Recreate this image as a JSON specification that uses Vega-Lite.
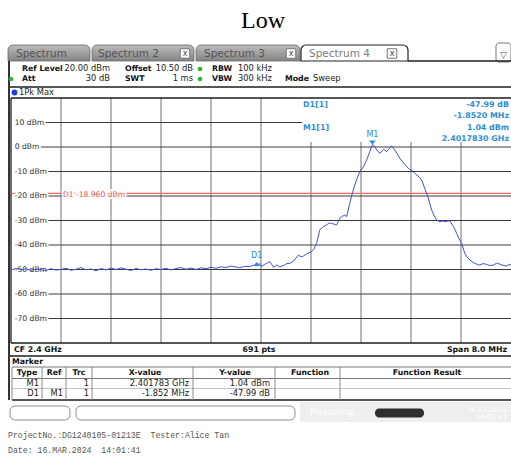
{
"$schema": "https://vega.github.io/schema/vega-lite/v6.json",
"width": 511, "height": 457, "padding": 0,
"autosize": {"type": "none"},
"background": "white",
"config": {"view": {"stroke": null}, "text": {"font": "DejaVu Sans"}},
"datasets": {
"trace": [
{"f":2396.00,"dbm":-50.2},{"f":2396.08,"dbm":-49.6},{"f":2396.16,"dbm":-50.0},{"f":2396.24,"dbm":-49.8},{"f":2396.32,"dbm":-50.3},{"f":2396.40,"dbm":-49.9},{"f":2396.48,"dbm":-50.1},{"f":2396.56,"dbm":-50.4},{"f":2396.64,"dbm":-49.7},{"f":2396.72,"dbm":-50.2},{"f":2396.80,"dbm":-50.0},{"f":2396.88,"dbm":-49.5},{"f":2396.96,"dbm":-50.3},{"f":2397.04,"dbm":-49.9},{"f":2397.12,"dbm":-49.2},{"f":2397.20,"dbm":-50.1},{"f":2397.28,"dbm":-49.8},{"f":2397.36,"dbm":-50.5},{"f":2397.44,"dbm":-49.6},{"f":2397.52,"dbm":-50.2},{"f":2397.60,"dbm":-49.4},{"f":2397.68,"dbm":-50.0},{"f":2397.76,"dbm":-49.3},{"f":2397.84,"dbm":-49.9},{"f":2397.92,"dbm":-50.4},{"f":2398.00,"dbm":-49.6},{"f":2398.08,"dbm":-50.1},{"f":2398.16,"dbm":-49.8},{"f":2398.24,"dbm":-50.3},{"f":2398.32,"dbm":-49.7},{"f":2398.40,"dbm":-50.0},{"f":2398.48,"dbm":-49.5},{"f":2398.56,"dbm":-50.2},{"f":2398.64,"dbm":-49.6},{"f":2398.72,"dbm":-49.2},{"f":2398.80,"dbm":-49.9},{"f":2398.88,"dbm":-49.4},{"f":2398.96,"dbm":-50.0},{"f":2399.04,"dbm":-49.3},{"f":2399.12,"dbm":-49.7},{"f":2399.20,"dbm":-49.1},{"f":2399.28,"dbm":-49.5},{"f":2399.36,"dbm":-48.9},{"f":2399.44,"dbm":-49.2},{"f":2399.52,"dbm":-48.6},{"f":2399.60,"dbm":-49.0},
{"f":2399.66,"dbm":-49.3},{"f":2399.74,"dbm":-48.7},{"f":2399.82,"dbm":-48.8},{"f":2399.88,"dbm":-48.3},{"f":2399.93,"dbm":-48.4},{"f":2399.98,"dbm":-47.6},{"f":2400.01,"dbm":-48.8},{"f":2400.05,"dbm":-48.0},{"f":2400.09,"dbm":-47.5},{"f":2400.14,"dbm":-46.8},{"f":2400.17,"dbm":-47.9},{"f":2400.20,"dbm":-49.1},{"f":2400.25,"dbm":-48.2},{"f":2400.30,"dbm":-48.9},{"f":2400.36,"dbm":-48.4},{"f":2400.41,"dbm":-47.6},{"f":2400.46,"dbm":-47.5},{"f":2400.52,"dbm":-46.6},{"f":2400.56,"dbm":-45.3},{"f":2400.60,"dbm":-44.1},{"f":2400.64,"dbm":-44.8},{"f":2400.68,"dbm":-44.5},{"f":2400.74,"dbm":-43.5},{"f":2400.81,"dbm":-42.7},{"f":2400.84,"dbm":-42.0},{"f":2400.89,"dbm":-39.3},{"f":2400.94,"dbm":-33.9},{"f":2400.99,"dbm":-32.6},{"f":2401.05,"dbm":-31.8},{"f":2401.09,"dbm":-31.0},{"f":2401.13,"dbm":-31.2},{"f":2401.17,"dbm":-31.5},{"f":2401.21,"dbm":-31.8},{"f":2401.26,"dbm":-29.1},{"f":2401.30,"dbm":-28.3},{"f":2401.34,"dbm":-27.8},{"f":2401.37,"dbm":-28.4},{"f":2401.42,"dbm":-23.0},{"f":2401.46,"dbm":-19.0},{"f":2401.50,"dbm":-15.5},{"f":2401.54,"dbm":-12.6},{"f":2401.58,"dbm":-10.1},{"f":2401.64,"dbm":-8.0},{"f":2401.69,"dbm":-5.3},{"f":2401.74,"dbm":-1.9},{"f":2401.783,"dbm":1.04},{"f":2401.82,"dbm":0.2},{"f":2401.85,"dbm":-1.2},{"f":2401.90,"dbm":-2.6},{"f":2401.96,"dbm":-0.9},{"f":2402.01,"dbm":-1.9},{"f":2402.05,"dbm":-0.6},{"f":2402.09,"dbm":0.4},{"f":2402.14,"dbm":-1.2},{"f":2402.18,"dbm":-2.8},{"f":2402.22,"dbm":-4.6},{"f":2402.28,"dbm":-6.5},{"f":2402.33,"dbm":-8.0},{"f":2402.38,"dbm":-9.2},{"f":2402.41,"dbm":-9.4},{"f":2402.46,"dbm":-10.7},{"f":2402.52,"dbm":-12.0},{"f":2402.57,"dbm":-13.5},{"f":2402.62,"dbm":-16.9},{"f":2402.67,"dbm":-20.3},{"f":2402.73,"dbm":-25.7},{"f":2402.77,"dbm":-28.0},{"f":2402.81,"dbm":-29.8},{"f":2402.86,"dbm":-30.5},{"f":2402.90,"dbm":-30.2},{"f":2402.94,"dbm":-30.5},{"f":2402.98,"dbm":-30.3},{"f":2403.02,"dbm":-30.1},{"f":2403.08,"dbm":-32.5},{"f":2403.13,"dbm":-35.2},{"f":2403.17,"dbm":-37.5},{"f":2403.21,"dbm":-39.3},{"f":2403.26,"dbm":-43.4},{"f":2403.30,"dbm":-45.0},{"f":2403.34,"dbm":-46.1},{"f":2403.38,"dbm":-46.9},{"f":2403.42,"dbm":-47.5},{"f":2403.46,"dbm":-47.9},{"f":2403.50,"dbm":-48.2},{"f":2403.55,"dbm":-47.6},{"f":2403.61,"dbm":-47.9},{"f":2403.66,"dbm":-48.4},{"f":2403.72,"dbm":-48.2},{"f":2403.77,"dbm":-47.4},{"f":2403.82,"dbm":-47.8},{"f":2403.87,"dbm":-48.3},{"f":2403.93,"dbm":-48.6},{"f":2403.97,"dbm":-47.9},{"f":2404.00,"dbm":-48.2}
],
"hgrid": [
{"level":10,"label":"10 dBm"},{"level":0,"label":"0 dBm"},{"level":-10,"label":"-10 dBm"},{"level":-20,"label":"-20 dBm"},{"level":-30,"label":"-30 dBm"},{"level":-40,"label":"-40 dBm"},{"level":-50,"label":"-50 dBm"},{"level":-60,"label":"-60 dBm"},{"level":-70,"label":"-70 dBm"}
],
"vgrid": [{"f":2396.8},{"f":2397.6},{"f":2398.4},{"f":2399.2},{"f":2400.0},{"f":2400.8},{"f":2401.6},{"f":2402.4},{"f":2403.2}],
"markers": [{"name":"M1","f":2401.783,"level":1.04},{"name":"D1","f":2399.931,"level":-46.95}],
"ui": [
{"role":"title","text":"Low","c":0,"r":0},
{"role":"statusbg","c":6,"c2":9,"r":36,"r2":37},
{"role":"tab","c":1,"c2":2,"r":1,"r2":2},
{"role":"tab","c":3,"c2":4,"r":1,"r2":2},
{"role":"tab","c":5,"c2":6,"r":1,"r2":2},
{"role":"tabactive","c":7,"c2":8,"r":1,"r2":2},
{"role":"tablabel","text":"Spectrum","c":10,"r":3},
{"role":"tablabel","text":"Spectrum 2","c":11,"r":3},
{"role":"tablabel","text":"Spectrum 3","c":12,"r":3},
{"role":"tablabelactive","text":"Spectrum 4","c":13,"r":3},
{"role":"close","text":"x","c":14,"r":3},
{"role":"close","text":"x","c":15,"r":3},
{"role":"close","text":"x","c":16,"r":3},
{"role":"icon","c":64,"c2":9,"r":33,"r2":34},
{"role":"icontext","text":"▽","c":65,"r":35},
{"role":"hline","c":8,"c2":9,"r":2},
{"role":"hline","c":27,"c2":9,"r":6},
{"role":"hline","c":27,"c2":9,"r":15},
{"role":"hline","c":35,"c2":9,"r":23},
{"role":"hline-gray","c":35,"c2":9,"r":17},
{"role":"hline-gray","c":35,"c2":9,"r":19},
{"role":"hline-light","c":35,"c2":9,"r":21},
{"role":"vline","c":63,"r":2,"r2":23},
{"role":"vline-gray","c":35,"r":17,"r2":23},
{"role":"vline-gray","c":48,"r":17,"r2":23},
{"role":"vline-gray","c":49,"r":17,"r2":23},
{"role":"vline-gray","c":50,"r":17,"r2":23},
{"role":"vline-gray","c":51,"r":17,"r2":23},
{"role":"vline-gray","c":52,"r":17,"r2":23},
{"role":"vline-gray","c":53,"r":17,"r2":23},
{"role":"dot-green","c":21,"r":4},
{"role":"dot-green","c":26,"r":5},
{"role":"dot-green","c":21,"r":5},
{"role":"dot-blue","c":28,"r":7},
{"role":"label","text":"Ref Level","c":17,"r":4},
{"role":"label","text":"Offset","c":19,"r":4},
{"role":"label","text":"RBW","c":22,"r":4},
{"role":"label","text":"Att","c":17,"r":5},
{"role":"label","text":"SWT","c":19,"r":5},
{"role":"label","text":"VBW","c":22,"r":5},
{"role":"label","text":"Mode","c":24,"r":5},
{"role":"label","text":"CF 2.4 GHz","c":32,"r":14},
{"role":"label","text":"Marker","c":35,"r":16},
{"role":"value","text":"100 kHz","c":23,"r":4},
{"role":"value","text":"300 kHz","c":23,"r":5},
{"role":"value","text":"Sweep","c":25,"r":5},
{"role":"value","text":"1Pk Max","c":29,"r":7},
{"role":"value-r","text":"20.00 dBm","c":18,"r":4},
{"role":"value-r","text":"10.50 dB","c":20,"r":4},
{"role":"value-r","text":"30 dB","c":18,"r":5},
{"role":"value-r","text":"1 ms","c":20,"r":5},
{"role":"value-r","text":"M1","c":43,"r":20},
{"role":"value-r","text":"1","c":45,"r":20},
{"role":"value-r","text":"2.401783 GHz","c":46,"r":20},
{"role":"value-r","text":"1.04 dBm","c":47,"r":20},
{"role":"value-r","text":"D1","c":43,"r":22},
{"role":"value-r","text":"M1","c":44,"r":22},
{"role":"value-r","text":"1","c":45,"r":22},
{"role":"value-r","text":"-1.852 MHz","c":46,"r":22},
{"role":"value-r","text":"-47.99 dB","c":47,"r":22},
{"role":"info-label","text":"D1[1]","c":30,"r":9},
{"role":"info-label","text":"M1[1]","c":30,"r":11},
{"role":"info-value","text":"-47.99 dB","c":31,"r":9},
{"role":"info-value","text":"-1.8520 MHz","c":31,"r":10},
{"role":"info-value","text":"1.04 dBm","c":31,"r":11},
{"role":"info-value","text":"2.4017830 GHz","c":31,"r":12},
{"role":"label-c","text":"691 pts","c":33,"r":14},
{"role":"label-r","text":"Span 8.0 MHz","c":34,"r":14},
{"role":"label-c","text":"Type","c":36,"r":18},
{"role":"label-c","text":"Ref","c":37,"r":18},
{"role":"label-c","text":"Trc","c":38,"r":18},
{"role":"label-c","text":"X-value","c":39,"r":18},
{"role":"label-c","text":"Y-value","c":40,"r":18},
{"role":"label-c","text":"Function","c":41,"r":18},
{"role":"label-c","text":"Function Result","c":42,"r":18},
{"role":"box","c":27,"c2":54,"r":24,"r2":25},
{"role":"box","c":55,"c2":56,"r":24,"r2":25},
{"role":"vline-light","c":57,"r":24,"r2":25},
{"role":"vline-light","c":58,"r":24,"r2":25},
{"role":"progress","c":60,"c2":61,"r":27,"r2":28},
{"role":"faint","text":"Measuring...","c":59,"r":26},
{"role":"faint-r","text":"16.03.2024","c":34,"r":31},
{"role":"faint-r","text":"14:01:41","c":34,"r":32},
{"role":"mono","text":"ProjectNo.:DG1240105-01213E\u00a0 Tester:Alice Tan","c":62,"r":29},
{"role":"mono","text":"Date: 16.MAR.2024\u00a0 14:01:41","c":62,"r":30}
]
},
"resolve": {"scale": {"x": "independent", "y": "independent"}},
"layer": [
{
"layer": [
{"data":{"name":"vgrid"},"mark":{"type":"rule","color":"#9a9a9a","strokeWidth":1.4},
 "encoding":{"x":{"field":"f","type":"quantitative","scale":{"domain":[2396,2404],"range":[11,511],"nice":false,"zero":false},"axis":null},
 "y":{"datum":-80,"type":"quantitative","scale":{"domain":[-80,20],"range":[343,98],"nice":false,"zero":false},"axis":null},"y2":{"datum":20}}},
{"data":{"name":"hgrid"},"mark":{"type":"rule","color":"#3a3a3a","strokeWidth":1},
 "encoding":{"x":{"datum":2396.13,"type":"quantitative","scale":{"domain":[2396,2404],"range":[11,511],"nice":false,"zero":false},"axis":null},"x2":{"datum":2404},
 "y":{"field":"level","type":"quantitative","scale":{"domain":[-80,20],"range":[343,98],"nice":false,"zero":false},"axis":null}}},
{"data":{"values":[{}]},"mark":{"type":"rect","color":"white"},
 "encoding":{"x":{"datum":2400.66,"type":"quantitative","scale":{"domain":[2396,2404],"range":[11,511],"nice":false,"zero":false},"axis":null},"x2":{"datum":2404},
 "y":{"datum":20,"type":"quantitative","scale":{"domain":[-80,20],"range":[343,98],"nice":false,"zero":false},"axis":null},"y2":{"datum":2.0}}},
{"data":{"values":[{"level":20},{"level":-80}]},"mark":{"type":"rule","color":"#1e1e1e","strokeWidth":1.3},
 "encoding":{"x":{"datum":2396,"type":"quantitative","scale":{"domain":[2396,2404],"range":[11,511],"nice":false,"zero":false},"axis":null},"x2":{"datum":2404},
 "y":{"field":"level","type":"quantitative","scale":{"domain":[-80,20],"range":[343,98],"nice":false,"zero":false},"axis":null}}},
{"data":{"values":[{}]},"mark":{"type":"rule","color":"#1e1e1e","strokeWidth":1.3},
 "encoding":{"x":{"datum":2396,"type":"quantitative","scale":{"domain":[2396,2404],"range":[11,511],"nice":false,"zero":false},"axis":null},
 "y":{"datum":-80,"type":"quantitative","scale":{"domain":[-80,20],"range":[343,98],"nice":false,"zero":false},"axis":null},"y2":{"datum":20}}},
{"data":{"values":[{}]},"mark":{"type":"rule","color":"#ec6a5c","strokeWidth":1.3},
 "encoding":{"x":{"datum":2396,"type":"quantitative","scale":{"domain":[2396,2404],"range":[11,511],"nice":false,"zero":false},"axis":null},"x2":{"datum":2404},
 "y":{"datum":-18.96,"type":"quantitative","scale":{"domain":[-80,20],"range":[343,98],"nice":false,"zero":false},"axis":null}}},
{"data":{"name":"hgrid"},"mark":{"type":"text","align":"left","baseline":"middle","fontSize":7.6,"fill":"white","stroke":"white","strokeWidth":4,"strokeJoin":"round"},
 "encoding":{"x":{"datum":2396.06,"type":"quantitative","scale":{"domain":[2396,2404],"range":[11,511],"nice":false,"zero":false},"axis":null},
 "y":{"field":"level","type":"quantitative","scale":{"domain":[-80,20],"range":[343,98],"nice":false,"zero":false},"axis":null},"text":{"field":"label"}}},
{"data":{"name":"hgrid"},"mark":{"type":"text","align":"left","baseline":"middle","fontSize":7.6,"color":"#333333"},
 "encoding":{"x":{"datum":2396.06,"type":"quantitative","scale":{"domain":[2396,2404],"range":[11,511],"nice":false,"zero":false},"axis":null},
 "y":{"field":"level","type":"quantitative","scale":{"domain":[-80,20],"range":[343,98],"nice":false,"zero":false},"axis":null},"text":{"field":"label"}}},
{"data":{"values":[{"label":"D1 -18.960 dBm"}]},"mark":{"type":"text","align":"left","baseline":"middle","fontSize":7.6,"fill":"white","stroke":"white","strokeWidth":4,"strokeJoin":"round"},
 "encoding":{"x":{"datum":2396.83,"type":"quantitative","scale":{"domain":[2396,2404],"range":[11,511],"nice":false,"zero":false},"axis":null},
 "y":{"datum":-19.4,"type":"quantitative","scale":{"domain":[-80,20],"range":[343,98],"nice":false,"zero":false},"axis":null},"text":{"field":"label"}}},
{"data":{"values":[{"label":"D1 -18.960 dBm"}]},"mark":{"type":"text","align":"left","baseline":"middle","fontSize":7.6,"color":"#e5584a"},
 "encoding":{"x":{"datum":2396.83,"type":"quantitative","scale":{"domain":[2396,2404],"range":[11,511],"nice":false,"zero":false},"axis":null},
 "y":{"datum":-19.4,"type":"quantitative","scale":{"domain":[-80,20],"range":[343,98],"nice":false,"zero":false},"axis":null},"text":{"field":"label"}}},
{"data":{"name":"trace"},"mark":{"type":"line","color":"#3f51d4","strokeWidth":1},
 "encoding":{"x":{"field":"f","type":"quantitative","scale":{"domain":[2396,2404],"range":[11,511],"nice":false,"zero":false},"axis":null},
 "y":{"field":"dbm","type":"quantitative","scale":{"domain":[-80,20],"range":[343,98],"nice":false,"zero":false},"axis":null}}},
{"data":{"name":"markers"},"mark":{"type":"point","filled":true,"size":64,"opacity":1,"color":"#2a8fd5"},
 "encoding":{"x":{"field":"f","type":"quantitative","scale":{"domain":[2396,2404],"range":[11,511],"nice":false,"zero":false},"axis":null},
 "y":{"field":"level","type":"quantitative","scale":{"domain":[-80,20],"range":[343,98],"nice":false,"zero":false},"axis":null},
 "shape":{"field":"name","type":"nominal","scale":{"domain":["M1","D1"],"range":["M-0.9,-1L0.9,-1L0,0Z","M-0.9,1L0.9,1L0,0Z"]},"legend":null}}},
{"data":{"name":"markers"},"transform":[{"filter":"datum.name === 'M1'"}],"mark":{"type":"text","align":"center","baseline":"bottom","dy":-5,"fontSize":8,"color":"#2a8fd5"},
 "encoding":{"x":{"field":"f","type":"quantitative","scale":{"domain":[2396,2404],"range":[11,511],"nice":false,"zero":false},"axis":null},
 "y":{"field":"level","type":"quantitative","scale":{"domain":[-80,20],"range":[343,98],"nice":false,"zero":false},"axis":null},"text":{"field":"name"}}},
{"data":{"name":"markers"},"transform":[{"filter":"datum.name === 'D1'"}],"mark":{"type":"text","align":"center","baseline":"bottom","dy":-2,"fontSize":8,"color":"#2a8fd5"},
 "encoding":{"x":{"field":"f","type":"quantitative","scale":{"domain":[2396,2404],"range":[11,511],"nice":false,"zero":false},"axis":null},
 "y":{"field":"level","type":"quantitative","scale":{"domain":[-80,20],"range":[343,98],"nice":false,"zero":false},"axis":null},"text":{"field":"name"}}}
]
},
{
"data": {"name": "ui"},
"encoding": {
 "x": {"field":"c","type":"quantitative","axis":null,"scale":{"nice":false,"zero":false,
   "domain":[0,1,2,3,4,5,6,7,8,9,10,11,12,13,14,15,16,17,18,19,20,21,22,23,24,25,26,27,28,29,30,31,32,33,34,35,36,37,38,39,40,41,42,43,44,45,46,47,48,49,50,51,52,53,54,55,56,57,58,59,60,61,62,63,64,65],
   "range":[263,8,90,92,194,196,300,301,408,511,16,98,204,309,185,291,392,22,110,125,193,200,212,238,285,313,11,10,14.5,19,303,509,14,259,507,12,27,54,79,145,235,310,427,39,63,89,189,270,42,66,92,193,275,340,70,76,295,58,282,310,375,424,8,9,496,503.5]}},
 "y": {"field":"r","type":"quantitative","axis":null,"scale":{"nice":false,"zero":false,
   "domain":[0,1,2,3,4,5,6,7,8,9,10,11,12,13,14,15,16,17,18,19,20,21,22,23,24,25,26,27,28,29,30,31,32,33,34,35,36,37],
   "range":[28,45,61,53.5,69,79,87,92.5,98,105,116,127.5,138.5,343,349.5,356,361.5,367,373,378.5,384,388.5,393.5,400,406,420,413,408.5,417.5,435.5,451,409.5,417,43,62,55,402,422]}}
},
"layer": [
{"transform":[{"filter":"datum.role === 'statusbg'"}],"mark":{"type":"rect","color":"#eeeeee"},"encoding":{"x2":{"field":"c2"},"y2":{"field":"r2"}}},
{"transform":[{"filter":"datum.role === 'tab'"}],"mark":{"type":"rect","cornerRadiusTopLeft":5,"cornerRadiusTopRight":5,"stroke":"#6a6a6a","strokeWidth":0.8,
  "fill":{"gradient":"linear","x1":0,"y1":0,"x2":0,"y2":1,"stops":[{"offset":0,"color":"#bdbdbd"},{"offset":1,"color":"#838383"}]}},"encoding":{"x2":{"field":"c2"},"y2":{"field":"r2"}}},
{"transform":[{"filter":"datum.role === 'tabactive'"}],"mark":{"type":"rect","cornerRadiusTopLeft":5,"cornerRadiusTopRight":5,"fill":"white","stroke":"#222222","strokeWidth":1.2},"encoding":{"x2":{"field":"c2"},"y2":{"field":"r2"}}},
{"transform":[{"filter":"datum.role === 'tablabel'"}],"mark":{"type":"text","align":"left","baseline":"middle","fontSize":10.5,"color":"#555555"},"encoding":{"text":{"field":"text"}}},
{"transform":[{"filter":"datum.role === 'tablabelactive'"}],"mark":{"type":"text","align":"left","baseline":"middle","fontSize":10.5,"color":"#7d7d7d"},"encoding":{"text":{"field":"text"}}},
{"transform":[{"filter":"datum.role === 'close'"}],"mark":{"type":"point","shape":"square","size":90,"filled":true,"fill":"white","stroke":"#777777","strokeWidth":1,"opacity":1}},
{"transform":[{"filter":"datum.role === 'close'"}],"mark":{"type":"text","align":"center","baseline":"middle","fontSize":8,"color":"#444444"},"encoding":{"text":{"field":"text"}}},
{"transform":[{"filter":"datum.role === 'icon'"}],"mark":{"type":"rect","cornerRadius":3,"fill":"white","stroke":"#777777","strokeWidth":1},"encoding":{"x2":{"field":"c2"},"y2":{"field":"r2"}}},
{"transform":[{"filter":"datum.role === 'icontext'"}],"mark":{"type":"text","align":"center","baseline":"middle","fontSize":9,"color":"#555555"},"encoding":{"text":{"field":"text"}}},
{"transform":[{"filter":"datum.role === 'hline'"}],"mark":{"type":"rule","color":"#1e1e1e","strokeWidth":1.3},"encoding":{"x2":{"field":"c2"}}},
{"transform":[{"filter":"datum.role === 'hline-gray'"}],"mark":{"type":"rule","color":"#777777","strokeWidth":1},"encoding":{"x2":{"field":"c2"}}},
{"transform":[{"filter":"datum.role === 'hline-light'"}],"mark":{"type":"rule","color":"#c4c4c4","strokeWidth":1},"encoding":{"x2":{"field":"c2"}}},
{"transform":[{"filter":"datum.role === 'vline'"}],"mark":{"type":"rule","color":"#1e1e1e","strokeWidth":1.8},"encoding":{"y2":{"field":"r2"}}},
{"transform":[{"filter":"datum.role === 'vline-gray'"}],"mark":{"type":"rule","color":"#8a8a8a","strokeWidth":1},"encoding":{"y2":{"field":"r2"}}},
{"transform":[{"filter":"datum.role === 'vline-light'"}],"mark":{"type":"rule","color":"#bbbbbb","strokeWidth":1},"encoding":{"y2":{"field":"r2"}}},
{"transform":[{"filter":"datum.role === 'dot-green'"}],"mark":{"type":"point","shape":"circle","size":22,"filled":true,"opacity":1,"color":"#35b335"}},
{"transform":[{"filter":"datum.role === 'dot-blue'"}],"mark":{"type":"point","shape":"circle","size":34,"filled":true,"opacity":1,"color":"#2040e0"}},
{"transform":[{"filter":"datum.role === 'title'"}],"mark":{"type":"text","align":"center","baseline":"alphabetic","font":"Liberation Serif","fontSize":24,"color":"#000000"},"encoding":{"text":{"field":"text"}}},
{"transform":[{"filter":"datum.role === 'label'"}],"mark":{"type":"text","align":"left","baseline":"middle","fontSize":7.8,"fontWeight":"bold","color":"#111111"},"encoding":{"text":{"field":"text"}}},
{"transform":[{"filter":"datum.role === 'label-c'"}],"mark":{"type":"text","align":"center","baseline":"middle","fontSize":7.8,"fontWeight":"bold","color":"#111111"},"encoding":{"text":{"field":"text"}}},
{"transform":[{"filter":"datum.role === 'label-r'"}],"mark":{"type":"text","align":"right","baseline":"middle","fontSize":7.8,"fontWeight":"bold","color":"#111111"},"encoding":{"text":{"field":"text"}}},
{"transform":[{"filter":"datum.role === 'value'"}],"mark":{"type":"text","align":"left","baseline":"middle","fontSize":8.3,"color":"#222222"},"encoding":{"text":{"field":"text"}}},
{"transform":[{"filter":"datum.role === 'value-r'"}],"mark":{"type":"text","align":"right","baseline":"middle","fontSize":8.3,"color":"#222222"},"encoding":{"text":{"field":"text"}}},
{"transform":[{"filter":"datum.role === 'info-label'"}],"mark":{"type":"text","align":"left","baseline":"middle","fontSize":7.9,"fontWeight":"bold","color":"#2a8fd5"},"encoding":{"text":{"field":"text"}}},
{"transform":[{"filter":"datum.role === 'info-value'"}],"mark":{"type":"text","align":"right","baseline":"middle","fontSize":7.9,"fontWeight":"bold","color":"#2a8fd5"},"encoding":{"text":{"field":"text"}}},
{"transform":[{"filter":"datum.role === 'box'"}],"mark":{"type":"rect","cornerRadius":5,"fill":"white","stroke":"#8f8f8f","strokeWidth":1},"encoding":{"x2":{"field":"c2"},"y2":{"field":"r2"}}},
{"transform":[{"filter":"datum.role === 'progress'"}],"mark":{"type":"rect","cornerRadius":4,"color":"#2e2e2e"},"encoding":{"x2":{"field":"c2"},"y2":{"field":"r2"}}},
{"transform":[{"filter":"datum.role === 'faint'"}],"mark":{"type":"text","align":"left","baseline":"middle","fontSize":8.3,"color":"#ffffff"},"encoding":{"text":{"field":"text"}}},
{"transform":[{"filter":"datum.role === 'faint-r'"}],"mark":{"type":"text","align":"right","baseline":"middle","fontSize":7,"color":"#ffffff"},"encoding":{"text":{"field":"text"}}},
{"transform":[{"filter":"datum.role === 'mono'"}],"mark":{"type":"text","align":"left","baseline":"middle","font":"Liberation Mono","fontSize":8.2,"color":"#555555"},"encoding":{"text":{"field":"text"}}}
]
}
]
}
